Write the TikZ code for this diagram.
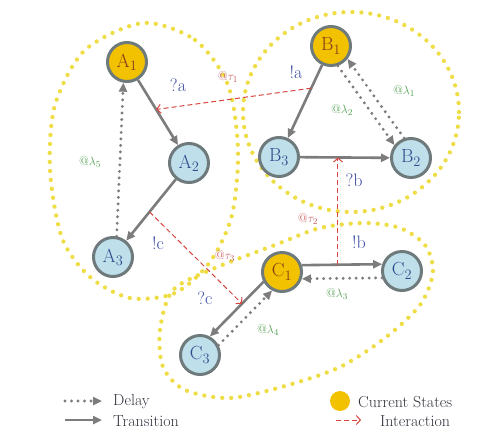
\documentclass[tikz,border=0pt]{standalone}
\usetikzlibrary{arrows.meta,calc}
\definecolor{ygold}{HTML}{F2C200}
\definecolor{yreg}{HTML}{EEDD44}
\definecolor{lblue}{HTML}{BFE0EA}
\definecolor{nborder}{HTML}{6F7A7C}
\definecolor{agray}{HTML}{7C7C7C}
\definecolor{lblblue}{HTML}{3E4FA3}
\definecolor{lblgreen}{HTML}{4E9E4E}
\definecolor{ired}{HTML}{D8453F}
\definecolor{tred}{HTML}{C85A5A}
\definecolor{ntxtY}{HTML}{8A3A1C}
\definecolor{ntxtB}{HTML}{2E4C8E}
\definecolor{legtxt}{HTML}{333340}
\begin{document}
\begin{tikzpicture}[x=1pt,y=-1pt,
 state/.style={circle,draw=nborder,line width=3pt,minimum size=39pt,inner sep=0pt,font=\fontsize{19}{21}\selectfont},
 cur/.style={state,fill=ygold,text=ntxtY},
 oth/.style={state,fill=lblue,text=ntxtB},
 trans/.style={draw=agray,line width=2.6pt,-{Triangle[length=9pt,width=8pt]}},
 delay/.style={draw=agray,line width=3.2pt,line cap=round,dash pattern=on 0pt off 6.5pt,-{Triangle[length=9pt,width=8pt]}},
 inter/.style={draw=ired,line width=1pt,dash pattern=on 5pt off 3pt,-{Straight Barb[length=4pt,width=9pt]}},
 region/.style={draw=yreg,line width=4.3pt,line cap=round,dash pattern=on 0pt off 9pt},
 lbl/.style={text=lblblue,font=\fontsize{18}{20}\selectfont,inner sep=0pt},
 lam/.style={text=lblgreen,font=\fontsize{13}{15}\selectfont,inner sep=0pt},
 tau/.style={text=tred,font=\fontsize{13}{15}\selectfont,inner sep=0pt},
 leg/.style={font=\fontsize{16}{18}\selectfont,anchor=west,inner sep=0pt,text=legtxt}
]
\fill[white] (0,0) rectangle (492,434);
\useasboundingbox (0,0) rectangle (492,434);
% regions
\draw[region] plot[smooth cycle] coordinates {(143,23) (195,40) (228,85) (238,150) (232,215) (210,262) (175,293) (130,298) (90,277) (62,238) (50,170) (55,105) (85,50)};
\draw[region] (351,112) ellipse [x radius=108pt, y radius=100pt];
\draw[region] plot[smooth cycle] coordinates {(173,290) (160,330) (163,367) (185,390) (230,398) (285,386) (340,367) (385,338) (420,305) (433,272) (425,245) (400,228) (365,223) (320,228) (275,245) (215,268)};
% states
\node[cur] (A1) at (127,62) {A$_1$};
\node[oth] (A2) at (189,163) {A$_2$};
\node[oth] (A3) at (113,257) {A$_3$};
\node[cur] (B1) at (331,46) {B$_1$};
\node[oth] (B3) at (279,157) {B$_3$};
\node[oth] (B2) at (411,158) {B$_2$};
\node[cur] (C1) at (282,272) {C$_1$};
\node[oth] (C2) at (402,271) {C$_2$};
\node[oth] (C3) at (200,355) {C$_3$};
% transitions and delays
\draw[trans] (A1) -- (A2);
\draw[trans] (A2) -- (A3);
\draw[delay] (A3.80) -- (A1.-100);
\draw[trans] (B1) -- (B3);
\draw[trans] (B3) -- (B2);
\draw[delay] (B1.-71) -- (B2.142);
\draw[delay] (B2.109) -- (B1.-38);
\draw[trans] (C1.19) -- (C2.161);
\draw[delay] (C2.-161) -- (C1.-19);
\draw[trans] (C1.-152) -- (C3.62);
\draw[delay] (C3.28) -- (C1.-118);
% labels
\node[lbl] (qa) at (178,85) {?a};
\node[lbl] (ea) at (296,72) {!a};
\node[lbl] (qb) at (354,180) {?b};
\node[lbl] (eb) at (359,242) {!b};
\node[lbl] (ec) at (158,243) {!c};
\node[lbl] (qc) at (205,298) {?c};
\node[lam] (l5) at (90,162) {@$\lambda_5$};
\node[lam] (l2) at (342,110) {@$\lambda_2$};
\node[lam] (l1) at (404,91) {@$\lambda_1$};
\node[lam] (l3) at (337,294) {@$\lambda_3$};
\node[lam] (l4) at (268,330) {@$\lambda_4$};
\node[tau] (t1) at (228,77) {@$\tau_1$};
\node[tau] (t2) at (308,219) {@$\tau_2$};
\node[tau] (t3) at (225,256) {@$\tau_3$};
% interactions
\coordinate (i1s) at ($(B1)!0.38!(B3)$);
\coordinate (i1e) at ($(A1)!0.47!(A2)$);
\draw[inter] (i1s) -- (i1e);
\coordinate (i2s) at ($(C1.19)!0.45!(C2.161)$);
\coordinate (i2e) at ($(B3)!0.44!(B2)$);
\draw[inter] (i2s) -- (i2s |- i2e);
\coordinate (i3s) at ($(A2)!0.52!(A3)$);
\coordinate (i3e) at ($(C1.-152)!0.4!(C3.62)$);
\draw[inter] (i3s) -- (i3e);
% legend
\coordinate (d0) at (65,401); \coordinate (d1) at (102,401);
\draw[delay] (d0) -- (d1);
\node[leg] (ld) at (113,402) {Delay};
\coordinate (tr0) at (65,420); \coordinate (tr1) at (102,420);
\draw[trans] (tr0) -- (tr1);
\node[leg] (lt) at (113,421) {Transition};
\node[circle,fill=ygold,minimum size=20pt,inner sep=0pt] (lc) at (340,401) {};
\node[leg] (lcs) at (358,402) {Current States};
\coordinate (in0) at (336,420); \coordinate (in1) at (361,420);
\draw[inter] (in0) -- (in1);
\node[leg] (li) at (380,421) {Interaction};
\end{tikzpicture}
\end{document}
